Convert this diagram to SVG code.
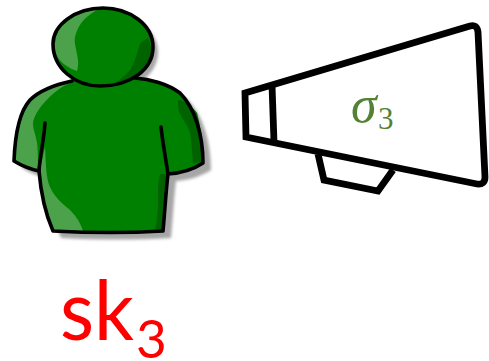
<svg xmlns="http://www.w3.org/2000/svg" width="489" height="361" viewBox="0 0 489 361">
<defs>
<filter id="b" x="-10%" y="-10%" width="120%" height="120%"><feGaussianBlur stdDeviation="1.5"/></filter>
<filter id="s" x="-10%" y="-10%" width="120%" height="120%"><feGaussianBlur stdDeviation=".6"/></filter>
<path id="bd" d="M72 81C58 84 40 90 30 100C19 112 15 135 14 161C22 166 30 169 39 171C41 195 46 215 53 231C90 233 130 233 163 231C165 210 166 190 168 174C182 173 194 169 203 163C203 135 195 108 180 93C168 84 150 79 135 78Z"/>
<path id="hd" d="M103 8C130 8 153 25 153 47C153 70 130 86 100 86C75 86 53 68 53 44C53 25 75 8 103 8Z"/>
</defs>
<style>
.o{stroke:#000;fill:none;stroke-width:3.6;stroke-linejoin:round;stroke-linecap:round}
.m{stroke:#000;fill:none;stroke-width:6.8;stroke-linejoin:miter}
.l{fill:#4ba24b}
.d{fill:#006400}
.r{fill:#f00;font-family:Lato,"Open Sans",sans-serif}
.g{fill:#548235}
</style>
<rect width="489" height="361" fill="#fff"/>
<g id="person">
<g fill="#a6a6a6" filter="url(#b)"><use href="#bd" transform="translate(8 7)"/><use href="#hd" transform="translate(5 5)"/></g>
<use href="#bd" fill="#008000"/>
<use href="#hd" fill="#008000"/>
<g filter="url(#s)">
<path class="l" d="M72 82C55 85 38 92 30 102C20 115 16 138 15 160C22 165 30 168 38 170C38 160 38 150 37 143C36 135 33 130 33 123C34 112 52 90 72 82Z"/>
<path class="l" d="M45 147C46 165 46 178 50 187C55 198 63 204 70 210C77 217 81 224 83 231L54 230C46 212 41 190 40 170Z"/>
<path class="d" d="M178 100C184 100 192 106 197 113C201 128 203 145 203 161L193 164C192 155 192 143 190 133C188 124 178 115 178 107Z"/>
<path class="d" d="M160 174L168 174C166 195 164 215 163 231L155 231C157 220 158 210 158 200C158 190 158 180 160 174Z"/>
<path class="l" d="M100 9C78 11 55 25 54 44C54 56 62 66 77 71C79 64 78 60 77 54C76 48 74 42 75 37C78 24 87 14 100 9Z"/>
<path class="d" d="M148 38C144 40 141 42 140 44C137 52 135 63 130 70C125 76 119 80 113 84C130 82 145 72 151 56C152 50 151 44 148 38Z"/>
</g>
<path class="o" d="M72 81C58 84 40 90 30 100C19 112 15 135 14 161C22 166 30 169 39 171C41 195 46 215 53 231C90 233 130 233 163 231C165 210 166 190 168 174C182 173 194 169 203 163C203 135 195 108 180 93C168 84 150 79 135 78"/>
<path class="o" d="M45 123C44 140 40 155 39 171M161 127C163 145 166 160 168 174"/>
<use href="#hd" class="o"/>
</g>
<g id="megaphone">
<path class="m" d="M245 93L470 26Q477 24 478 32L485 177Q485 185 477 184L246 137Z"/>
<path class="m" d="M272 85L274 142"/>
<path class="m" d="M318 154L324 180L378 191L393 170"/>
<text class="g" x="351" y="122" font-family="Liberation Serif,serif" font-style="italic" font-size="52">σ</text>
<text class="g" x="378" y="129" font-family="Liberation Serif,serif" font-size="31">3</text>
</g>
<g id="label">
<text class="r" x="60" y="340" font-size="84" textLength="74" lengthAdjust="spacingAndGlyphs">sk</text>
<text class="r" x="136" y="358" font-size="53">3</text>
</g>
</svg>
